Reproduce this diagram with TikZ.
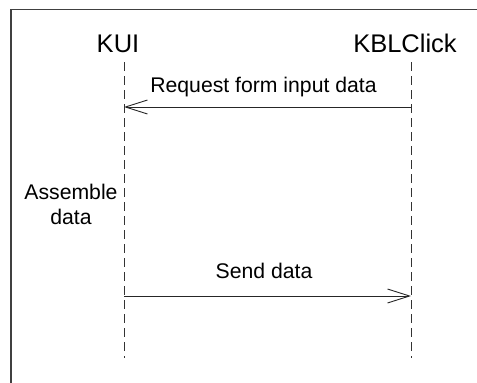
\documentclass[tikz,border=0pt]{standalone}
\usepackage{fontspec}
\setmainfont{Liberation Sans}
\usetikzlibrary{arrows.meta}
\begin{document}
\begin{tikzpicture}[x=1pt,y=-1pt,
  frame/.style={draw=black!75,line width=1.2pt},
  lifeline/.style={draw=black!80,line width=0.9pt,dash pattern=on 9pt off 5pt},
  msg/.style={draw=black!85,line width=0.9pt,-{Straight Barb[length=22pt,width=14pt,line width=0.9pt]}},
  actor/.style={inner sep=0pt,font=\fontsize{25.5}{30}\selectfont,anchor=base},
  msglabel/.style={inner sep=0pt,font=\fontsize{21.2}{25}\selectfont,anchor=base},
  note/.style={inner sep=0pt,font=\fontsize{21.2}{25}\selectfont,align=center,anchor=base}]
\useasboundingbox (0,0) rectangle (477,383);
% frame: left and top edges only
\draw[frame] (11,383) -- (11,9.5) -- (477,9.5);
% actors
\node[actor] (kui) at (118,52) {KUI};
\node[actor] (kbl) at (405,52) {KBLClick};
% lifelines
\coordinate (kuiTop) at (124,62);
\coordinate (kuiBot) at (124,358);
\coordinate (kblTop) at (411,62);
\coordinate (kblBot) at (411,358);
\draw[lifeline] (kuiTop) -- (kuiBot);
\draw[lifeline] (kblTop) -- (kblBot);
% messages
\coordinate (m1s) at (411,107);
\coordinate (m1e) at (124,107);
\coordinate (m2s) at (124,296);
\coordinate (m2e) at (411,296);
\draw[msg] (m1s) -- (m1e);
\draw[msg] (m2s) -- (m2e);
\node[msglabel] (l1) at (263.5,92) {Request form input data};
\node[msglabel] (l2) at (264,278) {Send data};
% activity note (base anchor sits on the last line)
\node[note] (asm) at (71,224) {Assemble\\data};
\end{tikzpicture}
\end{document}
